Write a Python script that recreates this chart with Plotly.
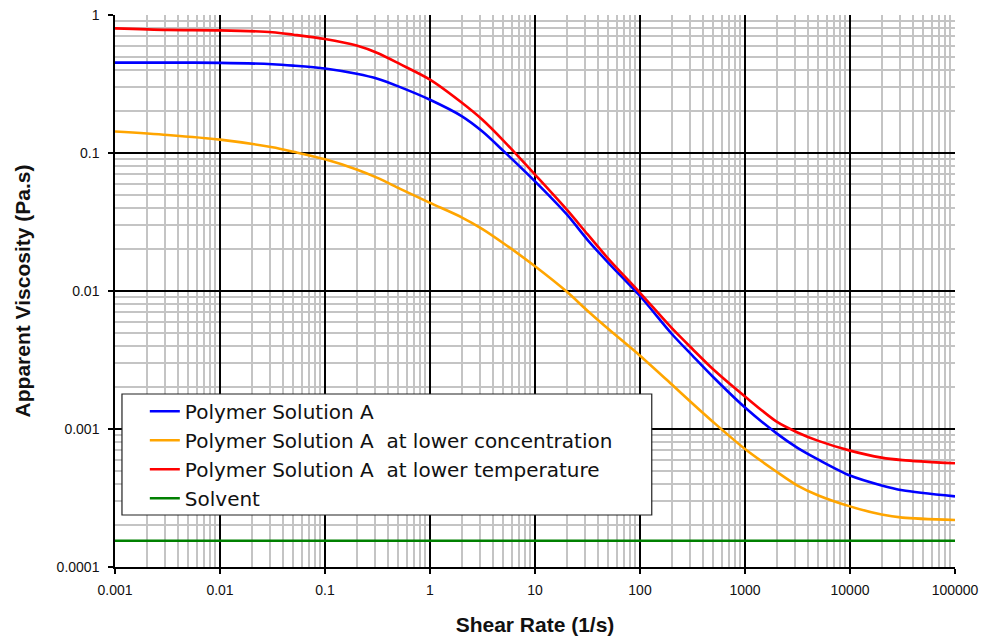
import plotly.graph_objects as go

shear_rate = [0.001, 0.00316, 0.01, 0.0316, 0.05, 0.1, 0.2, 0.316, 0.52, 1, 2, 3.16, 5, 10, 20, 31.6, 50, 100,
              200, 316, 500, 1000, 2000, 3162, 5000, 10000, 20000, 31623, 100000]

visc_a = [0.452, 0.452, 0.45, 0.44, 0.43, 0.41, 0.375, 0.345, 0.30, 0.243, 0.185, 0.143, 0.1036, 0.0623, 0.036,
          0.0235, 0.016, 0.0092, 0.0049, 0.0034, 0.00237, 0.00143, 0.00093, 0.00073, 0.0006, 0.00046, 0.00039,
          0.00036, 0.000325]
visc_conc = [0.143, 0.135, 0.125, 0.11, 0.102, 0.09, 0.076, 0.066, 0.055, 0.0435, 0.0342, 0.0281, 0.0222, 0.0151,
             0.0099, 0.0072, 0.0053, 0.0034, 0.00211, 0.00153, 0.00112, 0.000716, 0.00049, 0.000389, 0.00033,
             0.000275, 0.00024, 0.000228, 0.000219]
visc_temp = [0.80, 0.78, 0.774, 0.75, 0.72, 0.67, 0.60, 0.53, 0.44, 0.34, 0.232, 0.174, 0.123, 0.0697, 0.039,
             0.0258, 0.0171, 0.0097, 0.0054, 0.0038, 0.0027, 0.00172, 0.00113, 0.000944, 0.00082, 0.000697, 0.00062,
             0.000595, 0.000564]
solvent_x = [0.001, 100000]
solvent_y = [0.000155, 0.000155]

series_names = ["Polymer Solution A", "Polymer Solution A  at lower concentration",
                "Polymer Solution A  at lower temperature", "Solvent"]
series_colors = ["#0000ff", "#ffa500", "#ff0000", "#008000"]

x_tick_vals = [0.001, 0.01, 0.1, 1, 10, 100, 1000, 10000, 100000]
x_tick_text = ["0.001", "0.01", "0.1", "1", "10", "100", "1000", "10000", "100000"]
y_tick_vals = [0.0001, 0.001, 0.01, 0.1, 1]
y_tick_text = ["0.0001", "0.001", "0.01", "0.1", "1"]

fig = go.Figure()
series = [(shear_rate, visc_a), (shear_rate, visc_conc), (shear_rate, visc_temp), (solvent_x, solvent_y)]
for i, ((xs, ys), name, col) in enumerate(zip(series, series_names, series_colors)):
    fig.add_trace(go.Scatter(x=xs, y=ys, mode="lines", name=name, legendgroup=str(i),
                             line=dict(color=col, width=2.6, shape="spline", smoothing=0.8)))

font_family = "Liberation Sans, Arial, sans-serif"

# legend frame (drawn as a shape so that the padding matches the original)
fig.add_shape(type="rect", xref="paper", yref="paper", x0=0.0083, x1=0.639, y0=0.0942, y1=0.3134,
              line=dict(color="#222222", width=1.2), fillcolor="white", layer="above")

fig.update_layout(
    width=985, height=631,
    margin=dict(l=107, r=38, t=7, b=72),
    paper_bgcolor="white", plot_bgcolor="white",
    font=dict(family=font_family, color="#111111"),
    showlegend=True,
    legend=dict(x=0.0355, y=0.3175, xanchor="left", yanchor="top",
                bgcolor="rgba(0,0,0,0)", borderwidth=0,
                font=dict(size=20, family="DejaVu Sans, sans-serif", color="#111111"),
                traceorder="grouped", tracegroupgap=0, itemwidth=30),
    xaxis=dict(type="log", range=[-3, 5], tickvals=x_tick_vals, ticktext=x_tick_text,
               automargin=False, ticklabeloverflow="allow",
               showgrid=True, gridcolor="#000000", gridwidth=1.5,
               minor=dict(showgrid=True, gridcolor="#c4c4c4", gridwidth=1.5, dtick="D1"),
               showline=True, linecolor="#000000", linewidth=1.5,
               ticks="outside", ticklen=5, tickcolor="#000000", tickwidth=1.5,
               tickfont=dict(size=14), ticklabelstandoff=4, zeroline=False,
               title=dict(text="<b>Shear Rate (1/s)</b>", font=dict(size=21), standoff=21)),
    yaxis=dict(type="log", range=[-4, 0], tickvals=y_tick_vals, ticktext=y_tick_text,
               automargin=False, ticklabeloverflow="allow",
               showgrid=True, gridcolor="#000000", gridwidth=1.5,
               minor=dict(showgrid=True, gridcolor="#c4c4c4", gridwidth=1.5, dtick="D1"),
               showline=True, linecolor="#000000", linewidth=1.5,
               ticks="outside", ticklen=5, tickcolor="#000000", tickwidth=1.5,
               tickfont=dict(size=14), ticklabelstandoff=6, zeroline=False,
               title=dict(text="<b>Apparent Viscosity (Pa.s)</b>", font=dict(size=21), standoff=20)),
)

fig.write_html("out.html")
